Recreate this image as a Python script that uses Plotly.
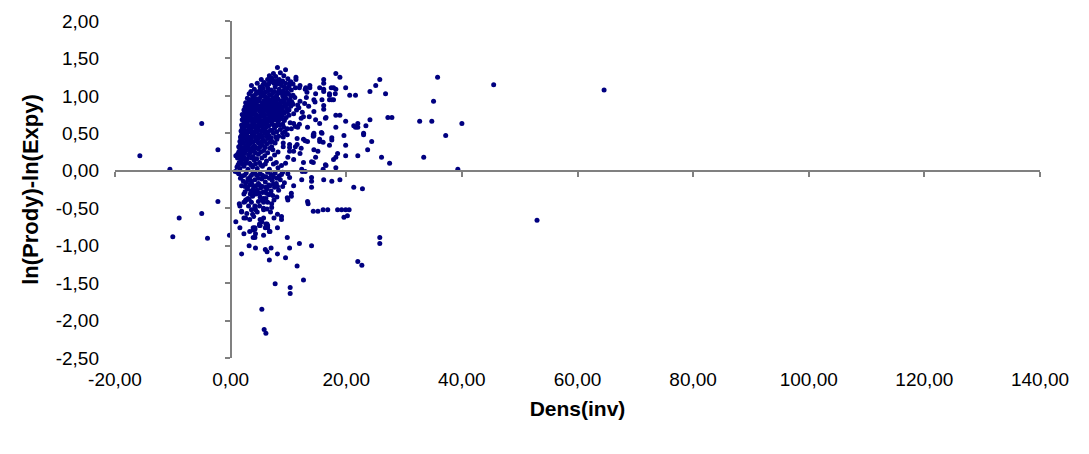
import plotly.graph_objects as go

# ---- data ----
core_top = [(8.1,1.38),(9.5,1.35),(7.4,1.30),(9.2,1.27),(6.7,1.27),(8.6,1.31),(6.4,1.22),(7.1,1.24),(7.8,1.26),
            (8.4,1.22),(9.0,1.20),(9.9,1.23),(10.4,1.19),(5.3,1.22),(5.8,1.18),(6.2,1.15),(6.9,1.19),(7.5,1.17),
            (8.1,1.16),(8.8,1.14),(9.5,1.17),(10.1,1.13),(10.8,1.16),(4.6,1.17),(5.1,1.12),(5.6,1.10),(6.4,1.11),
            (7.0,1.08),(7.7,1.12),(8.4,1.09),(9.1,1.07),(9.8,1.10),(10.5,1.08),(11.2,1.11),(3.6,1.14),(4.1,1.09),
            (4.5,1.05),(5.0,1.07),(5.5,1.03),(6.0,1.05),(6.7,1.02),(7.3,1.04),(8.0,1.01),(8.7,1.04),(9.4,1.02),
            (10.0,1.03),(10.8,1.01),(3.2,1.03),(3.8,1.00)]
core_mid = [(2.9,0.97),(3.4,0.95),(4.0,0.98),(4.6,0.96),(5.2,0.99),(5.8,0.94),(6.4,0.97),(7.0,0.95),(7.6,0.98),
            (8.2,0.96),(8.9,0.94),(9.6,0.97),(10.3,0.95),(11.1,0.98),(12.0,0.93),
            (2.6,0.91),(3.1,0.89),(3.7,0.92),(4.3,0.90),(4.9,0.93),(5.5,0.88),(6.1,0.91),(6.8,0.89),(7.3,0.92),
            (7.9,0.90),(8.5,0.88),(9.2,0.91),(9.9,0.89),(10.6,0.92),(11.6,0.88),(12.8,0.90),
            (2.5,0.85),(3.0,0.83),(3.5,0.86),(4.1,0.84),(4.7,0.87),(5.3,0.82),(5.9,0.85),(6.5,0.83),(7.1,0.86),
            (7.7,0.84),(8.3,0.82),(9.0,0.85),(9.7,0.83),(10.4,0.86),(11.4,0.81),
            (2.5,0.79),(2.8,0.76),(3.3,0.80),(3.9,0.78),(4.4,0.75),(5.0,0.79),(5.6,0.77),(6.2,0.80),(6.8,0.76),
            (7.4,0.78),(8.0,0.75),(8.6,0.79),(9.3,0.77),(10.1,0.74),
            (2.2,0.72),(2.7,0.70),(3.2,0.73),(3.8,0.69),(4.3,0.72),(4.9,0.70),(5.5,0.73),(6.1,0.68),(6.7,0.71),
            (7.3,0.69),(7.9,0.72),(8.5,0.70),(9.3,0.67),
            (2.2,0.62),(2.4,0.66),(2.9,0.64),(3.5,0.67),(4.0,0.63),(4.6,0.66),(5.1,0.62),(5.7,0.65),(6.3,0.63),
            (6.9,0.66),(7.5,0.61),(8.2,0.64),(9.0,0.62)]
core_low = [(2.0,0.57),(2.6,0.59),(3.2,0.56),(3.8,0.58),(4.4,0.55),(5.0,0.59),(5.6,0.56),(6.2,0.58),(6.9,0.54),
            (7.6,0.57),(8.6,0.55),
            (1.9,0.48),(2.3,0.51),(2.8,0.49),(3.4,0.52),(4.0,0.49),(4.6,0.51),(5.2,0.48),(5.9,0.50),(6.6,0.47),
            (7.4,0.50),(8.3,0.46),
            (1.8,0.42),(2.4,0.44),(3.0,0.41),(3.6,0.43),(4.3,0.40),(4.9,0.44),(5.6,0.41),(6.4,0.43),(7.2,0.39),(8.0,0.42),
            (1.7,0.35),(2.2,0.37),(2.8,0.34),(3.4,0.36),(4.1,0.33),(4.8,0.37),(5.5,0.34),(6.3,0.36),(7.1,0.32),
            (1.6,0.29),(2.1,0.27),(2.7,0.30),(3.3,0.28),(4.0,0.26),(4.8,0.29),(5.7,0.27),(6.8,0.30),
            (1.2,0.22),(1.8,0.20),(2.4,0.23),(3.1,0.21),(3.9,0.19),(4.8,0.22),(5.9,0.20),(7.6,0.21),
            (1.5,0.11),(1.8,0.12),(2.0,0.15),(2.6,0.13),(3.3,0.10),(4.1,0.14),(5.0,0.11),(6.2,0.13),(7.4,0.09),
            (1.1,0.05),(1.6,0.03),(2.3,0.06),(3.0,0.02),(3.8,0.05),(4.6,0.03),(5.5,0.06),(6.7,0.02),(8.2,0.04),
            (0.9,0.20),(1.2,0.17)]
core_fill = [(5.6,1.15),(6.6,1.16),(7.3,1.21),(8.0,1.20),(8.7,1.18),(9.3,1.12),(10.2,1.17),
             (3.5,1.06),(4.3,1.02),(4.8,1.04),(5.3,1.06),(5.9,1.00),(6.4,1.07),(7.0,1.01),(7.6,1.06),(8.3,1.05),
             (9.0,1.00),(9.7,1.05),(10.4,1.00),
             (3.2,0.93),(3.8,0.95),(4.3,0.93),(5.0,0.96),(5.5,0.91),(6.1,0.96),(6.7,0.93),(7.3,0.96),(7.9,0.93),
             (8.6,0.91),(9.3,0.95),(10.0,0.92),(10.8,0.89),
             (2.8,0.87),(3.4,0.89),(4.0,0.87),(4.6,0.85),(5.2,0.86),(5.8,0.88),(6.4,0.86),(7.0,0.82),(7.6,0.88),
             (8.2,0.86),(8.8,0.83),(9.5,0.87),(10.1,0.81),
             (2.3,0.81),(2.9,0.80),(3.6,0.82),(4.2,0.80),(4.8,0.82),(5.4,0.80),(6.0,0.82),(6.6,0.79),(7.2,0.81),
             (7.8,0.80),(8.4,0.77),(9.0,0.80),(9.8,0.79),
             (2.0,0.75),(2.5,0.74),(3.0,0.76),(3.6,0.75),(4.1,0.76),(4.7,0.73),(5.3,0.76),(5.9,0.74),(6.5,0.75),
             (7.1,0.73),(7.7,0.76),(8.3,0.73),(8.9,0.74),(9.6,0.71),
             (2.0,0.68),(2.5,0.67),(3.0,0.69),(3.6,0.70),(4.1,0.68),(4.7,0.69),(5.3,0.67),(5.9,0.70),(6.5,0.67),
             (7.1,0.66),(7.7,0.68),(8.3,0.67),(8.9,0.69),
             (1.9,0.61),(2.7,0.62),(3.3,0.60),(3.8,0.63),(4.4,0.60),(4.9,0.63),(5.5,0.60),(6.0,0.62),(6.6,0.60),
             (7.2,0.62),(7.9,0.60),(8.5,0.61),(9.2,0.58),
             (1.8,0.53),(2.3,0.55),(2.9,0.53),(3.5,0.54),(4.1,0.52),(4.7,0.55),(5.3,0.53),(5.9,0.54),(6.5,0.52),
             (7.2,0.54),(8.0,0.52),(9.0,0.50),
             (1.7,0.45),(2.1,0.47),(2.6,0.46),(3.1,0.45),(3.7,0.47),(4.3,0.45),(4.9,0.47),(5.5,0.45),(6.2,0.46),
             (7.0,0.44),(7.8,0.45),
             (1.6,0.39),(2.0,0.40),(2.7,0.39),(3.3,0.40),(3.9,0.38),(4.6,0.40),(5.2,0.38),(5.9,0.39),(6.8,0.38),
             (7.7,0.37),
             (1.4,0.32),(1.9,0.31),(2.5,0.32),(3.1,0.31),(3.7,0.30),(4.4,0.31),(5.1,0.32),(6.0,0.31),(7.3,0.28),
             (1.4,0.25),(2.0,0.24),(2.6,0.26),(3.4,0.24),(4.3,0.24),(5.2,0.25),(6.4,0.24),(8.2,0.25),
             (1.6,0.17),(2.3,0.18),(2.9,0.16),(3.6,0.17),(4.5,0.16),(5.4,0.17),(6.9,0.16),
             (1.3,0.08),(2.0,0.09),(2.7,0.10),(3.5,0.08),(4.3,0.09),(5.2,0.08),(6.0,0.09),(7.9,0.11)]
right_spread = [(11.3,1.25),(11.3,1.22),(16.1,1.22),(16.1,1.17),(18.2,1.30),(18.9,1.25),(15.4,1.11),(17.1,1.03),
                (17.1,1.01),(14.7,1.03),(13.7,1.14),(13.7,1.11),(13.0,1.11),(12.0,1.14),(16.1,1.09),(16.1,1.06),
                (17.8,1.11),(18.2,1.09),(17.5,0.95),(17.8,0.95),(17.1,0.95),(14.4,0.95),(15.8,0.95),(16.1,0.87),
                (16.1,0.82),(14.4,0.79),(14.7,0.68),(16.5,0.71),(15.4,0.63),(13.3,0.58),(11.6,0.58),(10.9,0.63),
                (14.4,0.50),(14.4,0.47),(15.8,0.50),(17.5,0.44),(17.5,0.41),(12.6,0.42),(13.3,0.39),(15.4,0.42),
                (15.4,0.39),(17.1,0.34),(14.4,0.28),(15.1,0.26),(10.2,0.31),(10.2,0.26),(10.9,0.26),(12.0,0.23),
                (14.0,0.12),(14.7,0.18),(16.5,0.07),(18.2,0.04),(12.3,0.02),(8.8,0.07),(10.9,0.15),(9.9,0.18),
                (9.5,0.10),(25.8,1.22),(25.1,1.14),(26.8,1.03),(24.1,1.06),(19.9,1.11),(20.6,1.01),(21.6,1.01),
                (18.2,0.74),(18.9,0.74),(19.9,0.66),(24.1,0.68),(27.2,0.71),(27.9,0.71),(21.3,0.60),(21.6,0.58),
                (22.0,0.58),(22.0,0.63),(23.4,0.60),(23.0,0.50),(23.0,0.48),(24.4,0.39),(18.2,0.58),(19.6,0.47),
                (19.9,0.34),(23.7,0.28),(18.5,0.23),(18.2,0.18),(17.8,0.15),(19.9,0.20),(22.0,0.20),(26.1,0.18),
                (27.5,0.10),(16.4,0.70),(12.2,0.70),(13.6,0.72),(12.9,0.40),(11.5,0.43),(11.5,0.35),(11.2,0.32),
                (14.3,0.11),(12.6,0.11),(16.4,0.08),(12.2,0.30),(10.2,0.35),(9.1,0.32),(9.1,0.37),(9.1,0.45),
                (9.8,0.48),(9.8,0.56),(10.5,0.56),(11.2,0.59),(11.9,0.62),(12.6,0.72),(16.0,0.38),(15.7,0.51),
                (14.3,0.48),(14.3,0.46),(11.9,1.11),(12.9,1.09),(13.2,1.05),(17.4,1.11),(18.1,1.03),(9.4,0.52),
                (10.3,0.64),(10.9,0.76),(11.8,0.84),(12.4,0.78),(13.5,0.86),(14.6,0.92),(13.1,0.98)]
below_axis = [(0.8,-0.01),(2.2,-0.14),(1.4,-0.04),(2.0,-0.07),(2.7,-0.03),(3.3,-0.09),(3.9,-0.02),(4.5,-0.06),
              (5.1,-0.04),(5.8,-0.08),(6.4,-0.02),(7.0,-0.05),(7.7,-0.03),(8.4,-0.07),(9.0,-0.02),(9.9,-0.04),
              (10.2,-0.09),(12.3,-0.12),(12.4,-0.01),(12.9,-0.01),(14.0,-0.09),(14.0,-0.14),(14.0,-0.22),
              (16.1,-0.12),(17.5,-0.14),(18.9,-0.12),(21.3,-0.22),(16.0,0.02),(10.9,-0.20),(10.5,-0.30),(9.8,-0.36),
              (2.6,-0.16),(3.1,-0.13),(3.7,-0.18),(4.2,-0.12),(4.8,-0.17),(5.4,-0.11),(6.0,-0.15),(6.6,-0.19),
              (7.2,-0.13),(7.9,-0.17),(8.6,-0.12),(9.3,-0.16),
              (2.9,-0.24),(3.5,-0.27),(4.0,-0.22),(4.6,-0.26),(5.2,-0.23),(5.8,-0.28),(6.3,-0.24),(7.0,-0.27),
              (7.6,-0.22),(8.3,-0.26),(9.0,-0.21),(2.5,-0.28),(2.9,-0.22),(3.6,-0.14),(3.2,-0.38),(2.5,-0.41),
              (2.9,-0.38),(2.3,-0.31),(3.0,-0.37),(2.6,-0.39),(2.3,-0.42),(1.6,-0.47),(4.2,-0.47),(4.2,-0.49),
              (4.3,-0.52),(4.6,-0.55),(3.8,-0.34),(4.4,-0.31),(5.1,-0.35),(5.4,-0.39),(5.7,-0.37),(5.7,-0.42),
              (6.1,-0.37),(6.6,-0.32),(7.1,-0.44),(7.1,-0.49),(7.5,-0.39),(7.3,-0.33),(8.0,-0.35),(9.9,-0.39),
              (10.5,-0.34),(13.4,-0.44),(13.3,-0.41),(14.3,-0.54),(16.0,-0.52),(15.1,-0.54),(16.8,-0.52),
              (19.2,-0.52),(20.5,-0.52),(20.2,-0.60),(22.8,-0.24),(18.5,-0.52),(19.9,-0.52),(19.6,-0.62),
              (1.5,-0.44),(1.9,-0.54),(0.9,-0.68),(1.6,-0.76),(2.3,-0.84),(1.9,-0.55),(2.6,-0.63),(2.3,-0.63),
              (3.3,-0.65),(3.8,-0.58),(5.7,-0.63),(5.7,-0.50),(5.7,-0.52),(5.1,-0.65),(5.4,-0.68),(5.1,-0.73),
              (6.4,-0.73),(6.1,-0.71),(6.4,-0.76),(8.1,-0.58),(8.8,-0.61),(8.8,-0.65),(7.5,-0.63),(8.1,-0.76),
              (5.7,-0.86),(6.8,-0.81),(4.2,-0.89),(4.3,-0.84),(4.2,-0.76),(4.2,-0.78),(3.3,-0.81),(3.9,-0.76),
              (3.9,-0.79),(3.9,-0.89),(5.0,-0.71),(5.0,-0.73),(6.0,-0.76),(6.3,-0.71),(6.7,-0.81),(9.8,-0.89),
              (3.2,-1.00),(4.3,-1.03),(1.9,-1.11),(6.0,-1.05),(6.3,-1.08),(7.0,-1.03),(8.1,-1.11),(9.5,-1.16),
              (10.2,-1.03),(11.9,-0.97),(14.0,-1.00),(6.7,-1.19),(11.5,-1.27),(12.6,-1.46),(7.7,-1.51),
              (10.3,-1.56),(10.3,-1.64),(22.0,-1.21),(22.7,-1.26),(25.8,-0.89),(25.8,-0.97),(5.4,-1.85),
              (5.8,-2.12),(6.1,-2.17)]
below_fill = [(1.2,-0.02),(1.7,-0.10),(2.4,-0.06),(3.0,-0.11),(3.6,-0.06),(4.2,-0.03),(4.8,-0.10),(5.5,-0.06),
              (6.1,-0.08),(6.7,-0.10),(7.4,-0.08),(8.0,-0.10),(8.8,-0.05),(1.9,-0.20),(2.5,-0.21),(3.3,-0.19),
              (3.9,-0.25),(4.4,-0.20),(5.0,-0.19),(5.5,-0.21),(6.1,-0.22),(6.8,-0.20),(7.4,-0.18),(8.1,-0.21),
              (3.4,-0.31),(4.1,-0.29),(4.9,-0.30),(5.5,-0.29),(6.2,-0.30),(6.9,-0.31),(3.6,-0.42),(4.8,-0.41),
              (6.4,-0.42),(3.1,-0.47),(3.6,-0.52),(5.0,-0.47),(6.3,-0.51),(2.8,-0.57),(4.0,-0.61),(6.9,-0.55)]
outliers = [(-15.7,0.20),(-10.5,0.02),(-5.0,0.63),(-2.2,0.28),(-10.0,-0.88),(-8.9,-0.63),(-5.0,-0.57),
            (-4.0,-0.90),(-2.2,-0.41),(-0.2,-0.86),(53.0,-0.66),(64.6,1.08),(45.5,1.15),(35.8,1.25),
            (35.1,0.93),(40.0,0.63),(37.2,0.47),(32.7,0.66),(34.8,0.66),(33.4,0.18),(39.3,0.02)]

x_range = [-20, 140]
y_range = [-2.5, 2.0]
x_ticks = [-20, 0, 20, 40, 60, 80, 100, 120, 140]
y_ticks = [-2.5, -2.0, -1.5, -1.0, -0.5, 0.0, 0.5, 1.0, 1.5, 2.0]

def fmt(v):
    return f"{v:.2f}".replace(".", ",")

pts = core_top + core_mid + core_low + core_fill + right_spread + below_axis + below_fill + outliers
xs = [p[0] for p in pts]
ys = [p[1] for p in pts]

FONT = "Liberation Sans, Arial, sans-serif"
AX = "#808080"

fig = go.Figure()
fig.add_trace(go.Scatter(x=xs, y=ys, mode="markers",
                         marker=dict(color="#000080", size=5, line=dict(width=0)),
                         showlegend=False, hoverinfo="skip"))
# helper trace so that the crossing axes are drawn
fig.add_trace(go.Scatter(x=[None], y=[None], xaxis="x2", yaxis="y2", mode="markers",
                         showlegend=False, hoverinfo="skip"))

y_zero_pos = (0 - y_range[0]) / (y_range[1] - y_range[0])
x_zero_pos = (0 - x_range[0]) / (x_range[1] - x_range[0])

fig.update_layout(
    width=1089, height=454,
    margin=dict(l=115, r=49, t=21, b=96),
    paper_bgcolor="white", plot_bgcolor="white",
    font=dict(family=FONT, size=19, color="black"),
    xaxis=dict(range=x_range, tickvals=x_ticks, ticktext=[fmt(v) for v in x_ticks], showgrid=False,
               zeroline=False, showline=False, ticks="", ticklabelstandoff=8,
               title=dict(text="<b>Dens(inv)</b>", font=dict(size=21), standoff=12)),
    yaxis=dict(range=y_range, tickvals=y_ticks, ticktext=[fmt(v) for v in y_ticks], showgrid=False,
               zeroline=False, showline=False, ticks="", ticklabelstandoff=15,
               title=dict(text="<b>ln(Prody)-ln(Expy)</b>", font=dict(size=22), standoff=10)),
    xaxis2=dict(range=x_range, tickvals=x_ticks, overlaying="x", anchor="free", position=y_zero_pos,
                showline=True, linecolor=AX, linewidth=2, ticks="outside", ticklen=5, tickcolor=AX,
                tickwidth=2, showticklabels=False, showgrid=False, zeroline=False),
    yaxis2=dict(range=y_range, tickvals=y_ticks, overlaying="y", anchor="free", position=x_zero_pos,
                side="left", showline=True, linecolor=AX, linewidth=2, ticks="outside", ticklen=5,
                tickcolor=AX, tickwidth=2, showticklabels=False, showgrid=False, zeroline=False),
)

fig.write_html("out.html")
